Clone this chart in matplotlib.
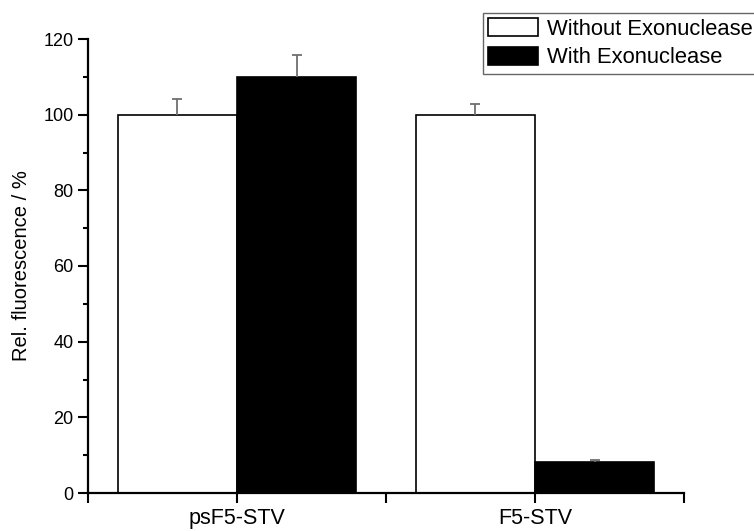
import matplotlib
matplotlib.use("Agg")
import matplotlib.pyplot as plt
from matplotlib.ticker import MultipleLocator

plt.rcParams['font.family'] = ['Liberation Sans', 'DejaVu Sans']

samples = ["psF5-STV", "F5-STV"]
without_exo = [100, 100]
without_err = [4.2, 2.8]
with_exo = [110, 8.3]
with_err = [5.7, 0.4]

fig = plt.figure(figsize=(7.54, 5.31), dpi=100)
ax = fig.add_axes([88 / 754, 38 / 531, 596 / 754, 454 / 531])

x = [1, 2]
w = 0.4
err_kw = dict(ecolor="#707070", capsize=3.5, elinewidth=1.3, capthick=1.3)
b1 = ax.bar([i - w / 2 for i in x], without_exo, w, color="white", edgecolor="black",
            linewidth=1.2, yerr=[[0, 0], without_err], error_kw=err_kw,
            label="Without Exonuclease", zorder=2)
b2 = ax.bar([i + w / 2 for i in x], with_exo, w, color="black", edgecolor="black",
            linewidth=1.2, yerr=[[0, 0], with_err], error_kw=err_kw,
            label="With Exonuclease", zorder=2)
# only the upper half of the error bars is shown
for b in (b1, b2):
    caps = b.errorbar.lines[1]
    caps[0].set_visible(False)

ax.set_xlim(0.5, 2.5)
ax.set_ylim(0, 120)
ax.set_xticks([0.5, 1, 1.5, 2, 2.5])
ax.set_xticklabels(["", samples[0], "", samples[1], ""])
ax.yaxis.set_major_locator(MultipleLocator(20))
ax.yaxis.set_minor_locator(MultipleLocator(10))
ax.tick_params(axis="both", direction="out", width=1.5, length=7, labelsize=13)
ax.tick_params(axis="y", which="minor", direction="out", width=1.5, length=3.8)
ax.tick_params(axis="x", labelsize=15.5)
ax.spines["top"].set_visible(False)
ax.spines["right"].set_visible(False)
ax.spines["left"].set_linewidth(1.6)
ax.spines["bottom"].set_linewidth(1.6)
ax.set_ylabel("Rel. fluorescence / %", fontsize=14.5, labelpad=9)

leg = fig.legend(loc="upper left", bbox_to_anchor=(483 / 754, 1 - 13 / 531),
                 fontsize=15.8, frameon=True, fancybox=False, edgecolor="#404040",
                 borderpad=0.25, handlelength=2.25, handleheight=0.88,
                 handletextpad=0.42, labelspacing=0.3, borderaxespad=0)
leg.get_frame().set_linewidth(1.0)

fig.savefig("out.png", dpi=100)
